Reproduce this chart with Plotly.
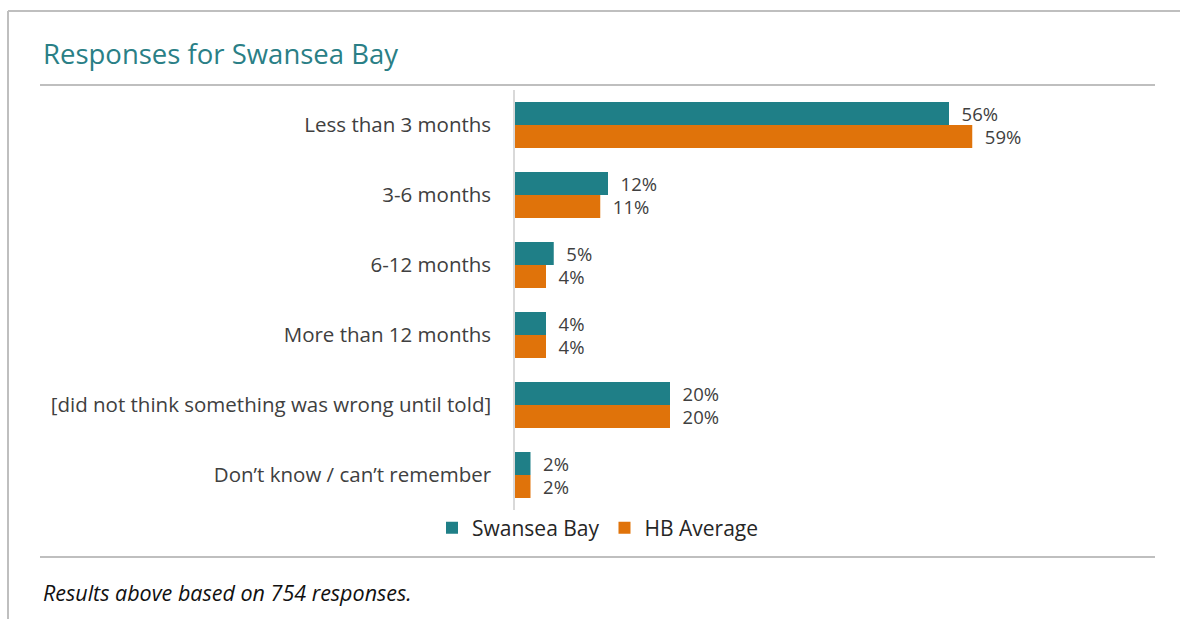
import plotly.graph_objects as go

categories = [
    "Less than 3 months",
    "3-6 months",
    "6-12 months",
    "More than 12 months",
    "[did not think something was wrong until told]",
    "Don’t know / can’t remember",
]
swansea_bay = [56, 12, 5, 4, 20, 2]
hb_average = [59, 11, 4, 4, 20, 2]
series_names = ["Swansea Bay", "HB Average"]
title_text = "Responses for Swansea Bay"
footnote_text = "Results above based on 754 responses."

W, H = 1180, 619
L, R, T, B = 515, 1115, 90, 510  # plot area in pixels

def px(x):
    return (x - L) / (R - L)

def py(y):
    return (B - y) / (B - T)

FONT = "Open Sans"
TEAL = "#1F7F87"
ORANGE = "#E0730A"
TXT = "#404040"

fig = go.Figure()
for name, vals, col in [(series_names[0], swansea_bay, TEAL), (series_names[1], hb_average, ORANGE)]:
    fig.add_trace(go.Bar(
        name=name, y=categories, x=vals, orientation="h",
        marker=dict(color=col, line=dict(width=0)),
        texttemplate="\u00a0\u00a0%{x}%", textposition="outside",
        constraintext="none",
        textfont=dict(family=FONT, size=18.5, color=TXT),
        cliponaxis=False, hoverinfo="skip",
    ))

fig.update_layout(
    width=W, height=H,
    margin=dict(l=L, r=W - R, t=T, b=H - B, pad=0),
    paper_bgcolor="white", plot_bgcolor="white",
    barmode="group", bargap=0.343, bargroupgap=0,
    font=dict(family=FONT, color=TXT),
    showlegend=True,
    legend=dict(
        orientation="h", x=px(598), xanchor="center", y=py(528), yanchor="middle",
        font=dict(family=FONT, size=21, color="#262626"),
        itemwidth=30, traceorder="normal", bgcolor="rgba(0,0,0,0)",
    ),
    xaxis=dict(visible=False, range=[0, (R - L) / 7.75], fixedrange=True),
    yaxis=dict(
        autorange="reversed", showgrid=False, zeroline=False,
        showline=True, linecolor="#D9D9D9", linewidth=1.5,
        ticks="", ticklabelstandoff=18, fixedrange=True,
        tickfont=dict(family=FONT, size=20.5, color=TXT),
    ),
)

shapes = [
    # outer frame (top and left edges)
    dict(x0=px(8), x1=px(1180), y0=py(11), y1=py(11)),
    dict(x0=px(8), x1=px(8), y0=py(11), y1=py(619)),
    # rule under the title
    dict(x0=px(40), x1=px(1155), y0=py(85), y1=py(85)),
    # rule above the footnote
    dict(x0=px(40), x1=px(1155), y0=py(557), y1=py(557)),
]
for s in shapes:
    fig.add_shape(type="line", xref="paper", yref="paper",
                  line=dict(color="#BFBFBF", width=2), **s)

fig.add_annotation(
    text=title_text, xref="paper", yref="paper", x=px(41), y=py(53),
    xanchor="left", yanchor="middle", showarrow=False,
    font=dict(family=FONT, size=27.5, color="#2A7F86"),
)
fig.add_annotation(
    text=f"<i>{footnote_text}</i>", xref="paper", yref="paper", x=px(41), y=py(592),
    xanchor="left", yanchor="middle", showarrow=False,
    font=dict(family=FONT, size=21.5, color="#111111"),
)

fig.write_html(
    "out.html",
    config={"displayModeBar": False},
    post_script="document.body.style.margin='0';document.body.style.padding='0';",
)
